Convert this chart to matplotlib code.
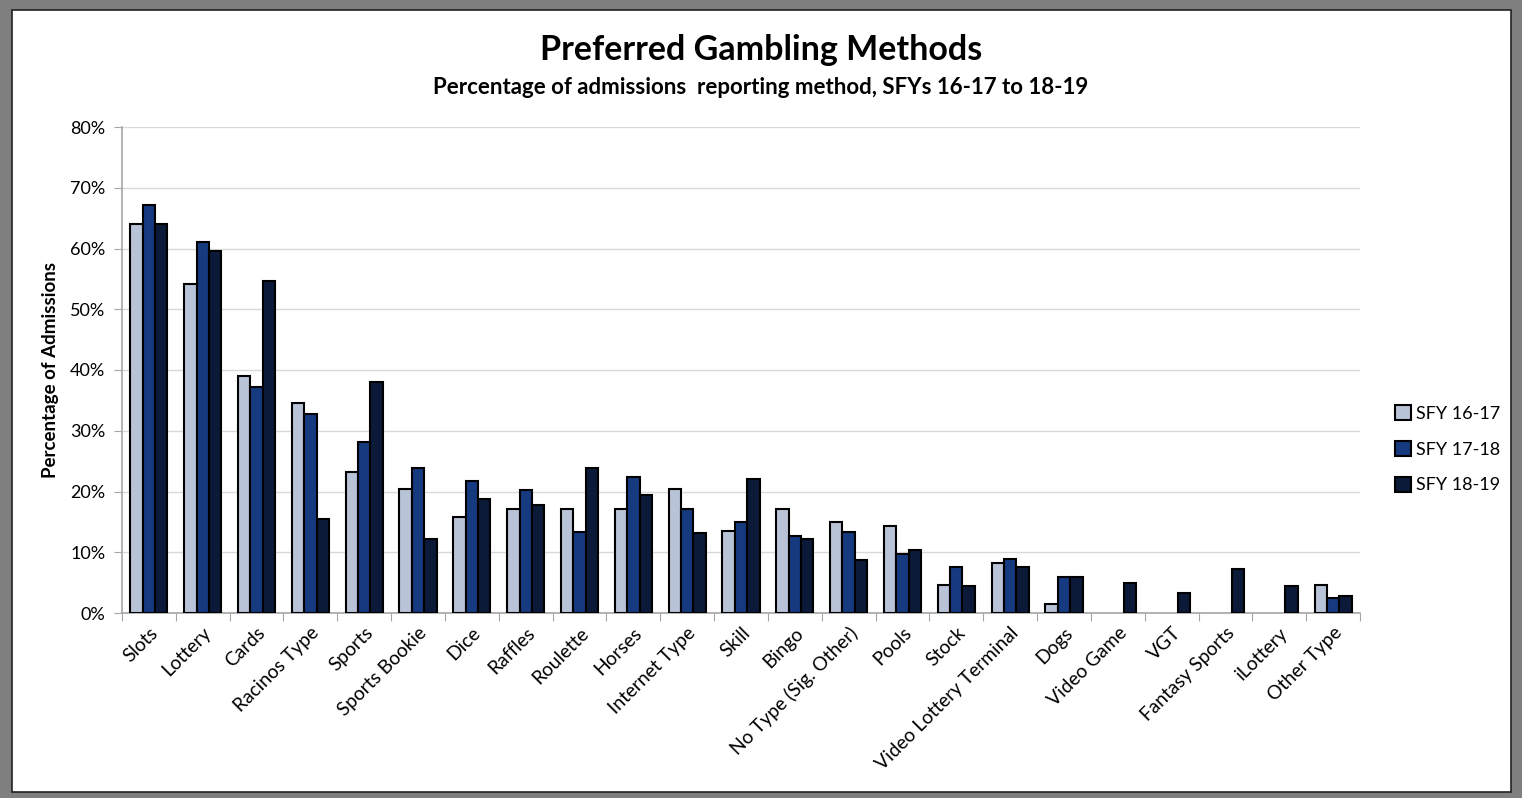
import matplotlib
matplotlib.use("Agg")
import matplotlib.pyplot as plt
from matplotlib.patches import Rectangle
from matplotlib.ticker import PercentFormatter, FixedLocator
import numpy as np

plt.rcParams['font.family'] = ['Lato', 'DejaVu Sans']

# データ
categories = ["Slots", "Lottery", "Cards", "Racinos Type", "Sports", "Sports Bookie",
              "Dice", "Raffles", "Roulette", "Horses", "Internet Type", "Skill", "Bingo",
              "No Type (Sig. Other)", "Pools", "Stock", "Video Lottery Terminal", "Dogs",
              "Video Game", "VGT", "Fantasy Sports", "iLottery", "Other Type"]
sfy_16_17 = [64.0, 54.1, 39.0, 34.6, 23.2, 20.4, 15.8, 17.2, 17.2, 17.2, 20.4, 13.5, 17.2,
             15.0, 14.3, 4.6, 8.3, 1.5, 0, 0, 0, 0, 4.6]
sfy_17_18 = [67.2, 61.1, 37.2, 32.8, 28.2, 23.9, 21.7, 20.2, 13.3, 22.4, 17.1, 14.9, 12.7,
             13.4, 9.7, 7.5, 8.9, 6.0, 0, 0, 0, 0, 2.4]
sfy_18_19 = [64.1, 59.6, 54.6, 15.5, 38.1, 12.2, 18.7, 17.7, 23.8, 19.4, 13.2, 22.1, 12.2,
             8.8, 10.4, 4.4, 7.6, 6.0, 4.9, 3.3, 7.2, 4.4, 2.8]
series_names = ["SFY 16-17", "SFY 17-18", "SFY 18-19"]
colors = ["#b9c3d7", "#163a80", "#0b1a38"]

fig = plt.figure(figsize=(15.22, 7.98), dpi=100)
fig.patch.set_facecolor("#7f7f7f")
# 白い内側の枠
fig.patches.append(Rectangle((12 / 1522, 6 / 798), 1499 / 1522, 782 / 798,
                             transform=fig.transFigure, facecolor="white",
                             edgecolor="#222222", linewidth=1.2, zorder=-10))

ax = fig.add_axes([122 / 1522, 1 - 613 / 798, 1238 / 1522, 486 / 798])
ax.set_facecolor("white")

x = np.arange(len(categories))
w = 0.23
for i, (vals, name, c) in enumerate(zip([sfy_16_17, sfy_17_18, sfy_18_19], series_names, colors)):
    bars = ax.bar(x + (i - 1) * w, vals, width=w, color=c, edgecolor="black", linewidth=1.5,
                  label=name, zorder=3)
    # 0%の棒は枠線を描かない
    for b, v in zip(bars, vals):
        if v == 0:
            b.set_linewidth(0)

ax.set_xlim(-0.5, len(categories) - 0.5)
ax.set_ylim(0, 80)
ax.set_yticks(np.arange(0, 81, 10))
ax.yaxis.set_major_formatter(PercentFormatter(decimals=0))
ax.grid(axis="y", color="#d9d9d9", linewidth=1, zorder=0)

ax.xaxis.set_major_locator(FixedLocator(np.arange(-0.5, len(categories), 1)))
ax.xaxis.set_minor_locator(FixedLocator(x))
ax.set_xticklabels([])
ax.set_xticklabels(categories, minor=True, rotation=45, ha="right", rotation_mode="anchor",
                   fontsize=13.8)
ax.tick_params(axis="x", which="major", length=6, color="#a6a6a6")
ax.tick_params(axis="x", which="minor", length=0, pad=8)
ax.tick_params(axis="y", length=6, color="#a6a6a6", labelsize=13, pad=6)

for s in ["top", "right"]:
    ax.spines[s].set_visible(False)
for s in ["left", "bottom"]:
    ax.spines[s].set_color("#a6a6a6")
    ax.spines[s].set_linewidth(1.2)

ax.set_ylabel("Percentage of Admissions", fontsize=13.5, fontweight="bold", labelpad=8)

fig.text(0.5, 1 - 50 / 798, "Preferred Gambling Methods", fontsize=24.5, fontweight="bold",
         ha="center", va="center")
fig.text(0.5, 1 - 87 / 798, "Percentage of admissions  reporting method, SFYs 16-17 to 18-19",
         fontsize=16, fontweight="bold", ha="center", va="center")

leg = ax.legend(loc="center left", bbox_to_anchor=(1.015, 0.337), frameon=False, fontsize=13,
                handlelength=0.9, handleheight=0.9, handletextpad=0.3, labelspacing=1.05)

fig.savefig("out.png", dpi=100, facecolor=fig.get_facecolor())
